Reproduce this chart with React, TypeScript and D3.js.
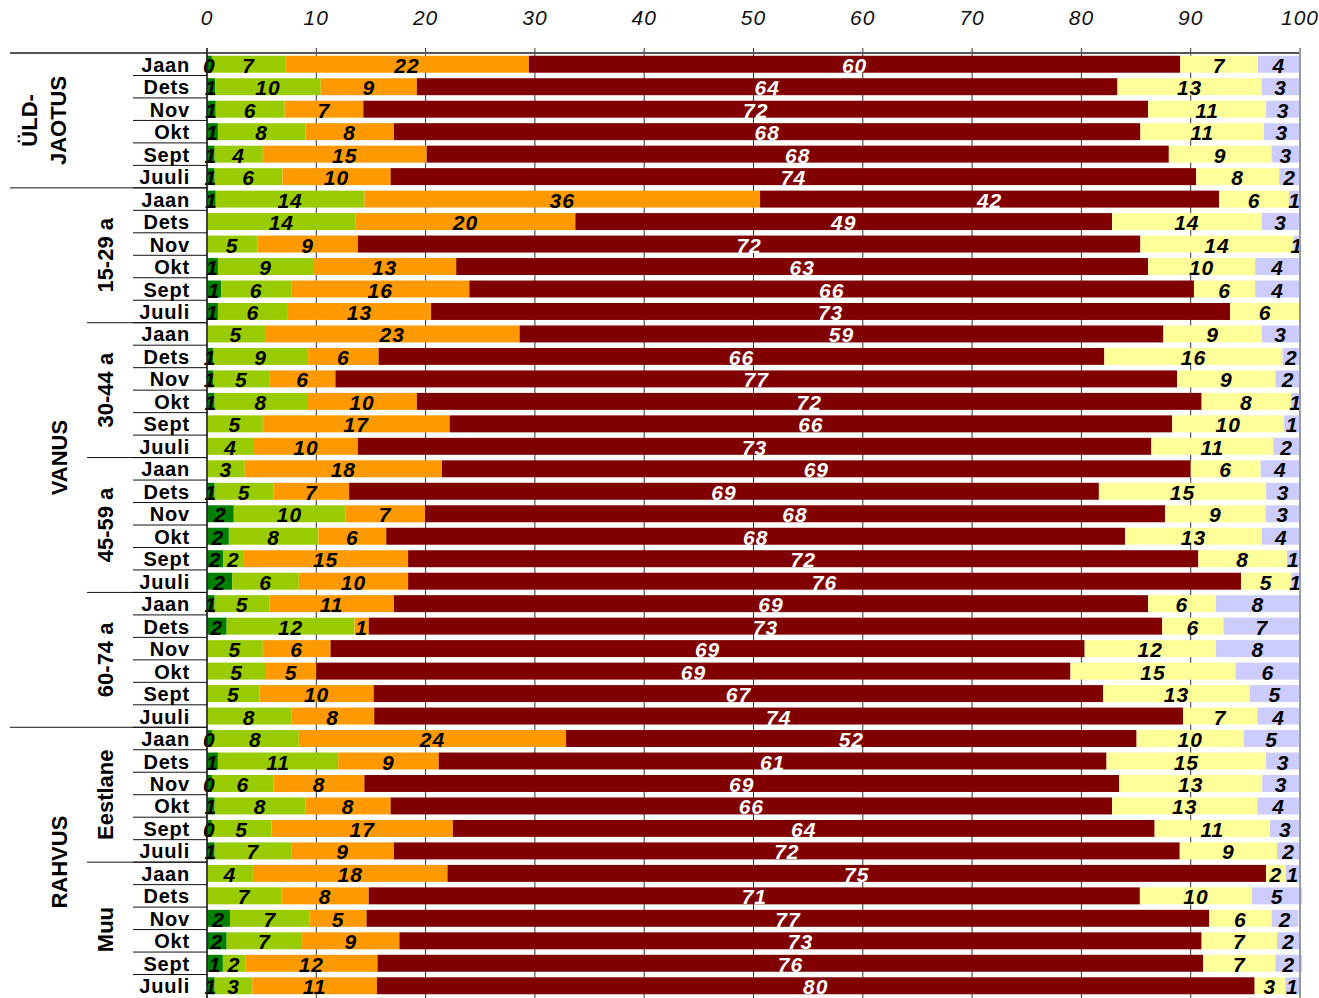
import React from "react";
import * as d3 from "d3";

const months = ["Jaan", "Dets", "Nov", "Okt", "Sept", "Juuli"];
const subGroups = ["ÜLD-JAOTUS", "15-29 a", "30-44 a", "45-59 a", "60-74 a", "Eestlane", "Muu"];
const ticks = [0, 10, 20, 30, 40, 50, 60, 70, 80, 90, 100];

// one value per row, rows ordered group by group, months Jaan..Juuli
const greenDark = [
  0.45, 0.75, 0.8, 1.0, 0.7, 0.7,
  0.8, 0, 0, 1.0, 1.3, 1.0,
  0, 0.55, 0.55, 0.7, 0, 0,
  0, 0.7, 2.45, 2.0, 1.5, 2.3,
  0.7, 1.8, 0, 0, 0, 0,
  0.45, 1.0, 0.45, 0.7, 0.45, 0.7,
  0, 0, 2.1, 1.8, 1.45, 0.7,
];
const greenLight = [
  6.7, 9.65, 6.3, 8.0, 4.4, 6.2,
  13.6, 13.6, 4.6, 8.7, 6.4, 6.4,
  5.3, 8.7, 5.2, 8.45, 5.1, 4.3,
  3.45, 5.4, 10.2, 8.2, 1.8, 6.1,
  5.0, 11.7, 5.1, 5.4, 4.8, 7.7,
  7.95, 11.0, 5.65, 8.3, 5.45, 7.0,
  4.2, 6.8, 7.3, 6.9, 2.05, 3.45,
];
const orange = [
  22.3, 8.8, 7.2, 8.1, 15.0, 9.9,
  36.2, 20.1, 9.2, 13.1, 16.3, 13.1,
  23.3, 6.45, 6.0, 10.05, 17.1, 9.5,
  18.05, 6.9, 7.3, 6.2, 15.1, 10.0,
  11.4, 1.3, 6.2, 4.6, 10.45, 7.6,
  24.45, 9.2, 8.3, 7.8, 16.6, 9.4,
  17.8, 8.0, 5.2, 8.9, 12.1, 11.4,
];
const maroon = [
  59.6, 64.1, 71.8, 68.3, 67.9, 73.7,
  42.0, 49.1, 71.6, 63.3, 66.3, 73.1,
  58.9, 66.4, 77.0, 71.8, 66.1, 72.6,
  68.5, 68.6, 67.7, 67.6, 72.3, 76.2,
  69.0, 72.6, 69.0, 69.0, 66.75, 74.0,
  52.2, 61.1, 69.05, 66.0, 64.2, 71.9,
  74.9, 70.55, 77.1, 73.4, 75.55, 80.3,
];
const yellow = [
  7.1, 13.2, 10.8, 11.3, 9.4, 7.6,
  6.4, 13.7, 14.0, 9.8, 5.6, 6.4,
  9.0, 16.3, 9.0, 8.2, 10.25, 11.15,
  6.4, 15.3, 9.2, 12.5, 8.1, 4.6,
  6.2, 5.6, 12.0, 15.1, 13.4, 6.8,
  9.8, 14.6, 13.1, 13.3, 10.55, 8.9,
  1.8, 10.25, 5.7, 6.9, 6.6, 2.8,
];
const lavender = [
  3.85, 3.45, 3.1, 3.3, 2.6, 1.9,
  1.0, 3.45, 0.6, 4.1, 4.1, 0,
  3.45, 1.6, 2.3, 0.8, 1.45, 2.45,
  3.6, 3.1, 3.1, 3.6, 1.2, 0.8,
  7.7, 7.0, 7.7, 5.9, 4.6, 3.9,
  5.1, 3.1, 3.45, 3.9, 2.8, 2.1,
  1.3, 4.6, 2.45, 2.1, 2.45, 1.3,
];

const seriesList = [greenDark, greenLight, orange, maroon, yellow, lavender];
const colors = ["#007F00", "#99CC00", "#FF9900", "#800000", "#FFFF99", "#CCCCFF"];
const labelColors = ["#000", "#000", "#000", "#fff", "#000", "#000"];

const W = 1319;
const H = 998;
const FONT = "'Liberation Sans', Arial, sans-serif";

export default function App() {
  const rows = subGroups.flatMap((g, gi) => months.map((m, mi) => ({ id: `${gi}-${mi}`, month: m, idx: gi * 6 + mi })));
  const x = d3.scaleLinear().domain([0, 100]).range([207, 1300]);
  const y = d3.scaleBand<string>().domain(rows.map((r) => r.id)).range([53, 997]).paddingInner(0.245).paddingOuter(0.1225);
  const step = y.step();
  const top = 53;
  const bY = (i: number) => top + i * step;

  const stack = rows.map((r) => {
    let acc = 0;
    return seriesList.map((s, si) => {
      const v = s[r.idx];
      const seg = { x0: acc, x1: acc + v, v, si };
      acc += v;
      return seg;
    });
  });

  const majorBreaks = [6, 30];
  const minorBreaks = [12, 18, 24, 36];

  return (
    <svg width={W} height={H} style={{ position: "absolute", left: 0, top: 0, background: "#fff" }} fontFamily={FONT}>
      {/* gridlines */}
      {ticks.map((t) => (
        <line key={"g" + t} x1={x(t)} x2={x(t)} y1={top - 5} y2={H} stroke="#333" strokeWidth={1} />
      ))}
      {/* bars */}
      {rows.map((r, ri) =>
        stack[ri].map((seg) =>
          seg.v > 0 ? (
            <rect key={r.id + "-" + seg.si} x={x(seg.x0)} y={y(r.id)} width={x(seg.x1) - x(seg.x0)} height={y.bandwidth()} fill={colors[seg.si]} />
          ) : null
        )
      )}
      {/* value labels */}
      {rows.map((r, ri) =>
        stack[ri].map((seg) =>
          seg.v > 0 ? (
            <text
              key={"t" + r.id + "-" + seg.si}
              x={(x(seg.x0) + x(seg.x1)) / 2}
              y={(y(r.id) as number) + y.bandwidth() / 2 + 1}
              textAnchor="middle"
              dominantBaseline="central"
              fontSize={21}
              fontWeight="bold"
              fontStyle="italic"
              letterSpacing={1}
              fill={labelColors[seg.si]}
            >
              {Math.round(seg.v)}
            </text>
          ) : null
        )
      )}
      {/* axes */}
      <line x1={10} x2={1300} y1={top} y2={top} stroke="#555" strokeWidth={2} />
      <line x1={207} x2={207} y1={top - 5} y2={H} stroke="#222" strokeWidth={1.5} />
      <line x1={1300} x2={1300} y1={top - 5} y2={H} stroke="#999" strokeWidth={2} />
      {ticks.map((t) => (
        <text key={"tl" + t} x={x(t)} y={25} textAnchor="middle" fontSize={21} fontStyle="italic" letterSpacing={1} fill="#111">
          {t}
        </text>
      ))}
      {/* row separators */}
      {rows.map((r, ri) => (ri > 0 ? <line key={"rs" + ri} x1={133} x2={207} y1={bY(ri)} y2={bY(ri)} stroke="#111" strokeWidth={1} /> : null))}
      {majorBreaks.map((b) => (
        <line key={"mb" + b} x1={10} x2={207} y1={bY(b)} y2={bY(b)} stroke="#111" strokeWidth={1} />
      ))}
      {minorBreaks.map((b) => (
        <line key={"nb" + b} x1={87} x2={207} y1={bY(b)} y2={bY(b)} stroke="#111" strokeWidth={1} />
      ))}
      {/* month labels */}
      {rows.map((r) => (
        <text key={"m" + r.id} x={190} y={(y(r.id) as number) + y.bandwidth() / 2 + 0.5} textAnchor="end" dominantBaseline="central" fontSize={20} fontWeight="bold" letterSpacing={0.8} fill="#000">
          {r.month}
        </text>
      ))}
      {/* group labels */}
      <g fontSize={22} fontWeight="bold" fill="#000" textAnchor="middle" dominantBaseline="central">
        <text transform={`translate(29,${bY(3)}) rotate(-90)`}>ÜLD-</text>
        <text transform={`translate(58,${bY(3)}) rotate(-90)`}>JAOTUS</text>
        <text transform={`translate(59,${bY(18)}) rotate(-90)`}>VANUS</text>
        <text transform={`translate(59,${bY(36)}) rotate(-90)`}>RAHVUS</text>
        {subGroups.slice(1).map((g, i) => (
          <text key={g} transform={`translate(105,${bY((i + 1) * 6 + 3)}) rotate(-90)`}>
            {g}
          </text>
        ))}
      </g>
    </svg>
  );
}
